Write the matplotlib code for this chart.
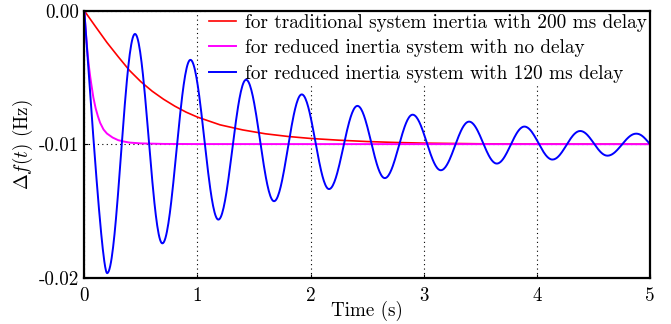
import numpy as np
import matplotlib
matplotlib.use("Agg")
import matplotlib.pyplot as plt
from matplotlib.path import Path

plt.rcParams["font.family"] = "cmr10"
plt.rcParams["mathtext.fontset"] = "cm"
plt.rcParams["axes.unicode_minus"] = False
plt.rcParams["axes.formatter.use_mathtext"] = True

# ---------------- data ----------------
labels = [
    "for traditional system inertia with 200 ms delay",
    "for reduced inertia system with no delay",
    "for reduced inertia system with 120 ms delay",
]

red_t = [0.0, 0.1, 0.2, 0.3, 0.4, 0.5, 0.6, 0.7, 0.8, 0.9, 1.0, 1.2, 1.4, 1.6,
         1.8, 2.0, 2.25, 2.5, 2.75, 3.0, 3.5, 4.0, 5.0]
red_v = [0.0, -0.00120, -0.00238, -0.00345, -0.00448, -0.00532, -0.00603,
         -0.00663, -0.00715, -0.00760, -0.00797, -0.00855, -0.00893, -0.00922,
         -0.00942, -0.00957, -0.00970, -0.00980, -0.00987, -0.00992, -0.00997,
         -0.00999, -0.01000]

mag_t = [0.0, 0.01, 0.02, 0.03, 0.04, 0.05, 0.06, 0.08, 0.10, 0.12, 0.14,
         0.17, 0.20, 0.25, 0.30, 0.35, 0.40, 0.50, 0.70, 1.0, 5.0]
mag_v = [0.0, -0.0012, -0.0023, -0.0033, -0.0041, -0.0048, -0.0054, -0.0065,
         -0.0073, -0.0079, -0.0084, -0.0089, -0.0092, -0.0095, -0.0097,
         -0.0098, -0.00988, -0.00994, -0.00998, -0.00999, -0.0100]

# blue: start point, successive troughs / peaks, end point
blue_t = [0.0, 0.202, 0.448, 0.690, 0.938, 1.185, 1.430, 1.677, 1.922, 2.163,
          2.414, 2.656, 2.902, 3.151, 3.401, 3.646, 3.890, 4.138, 4.383,
          4.624, 4.878, 5.0]
blue_v = [0.0, -0.01966, -0.00174, -0.01743, -0.00368, -0.01565, -0.00517,
          -0.01427, -0.00627, -0.01336, -0.00713, -0.01254, -0.00779,
          -0.01195, -0.00831, -0.01145, -0.00868, -0.01115, -0.00901,
          -0.01086, -0.00921, -0.01000]
# slope of the curve at those points (zero at the extrema)
blue_slope = [-0.120] + [0.0] * 20 + [-0.0102]

x_ticks = [0, 1, 2, 3, 4, 5]
x_ticklabels = ["0", "1", "2", "3", "4", "5"]
y_ticks = [0.0, -0.01, -0.02]
y_ticklabels = ["0.00", "-0.01", "-0.02"]

# ---------------- smooth curve through the blue key points ----------------
def smooth_curve(ts, vs, slopes, k_out, k_in, n=40):
    verts = [(ts[0], vs[0])]
    codes = [Path.MOVETO]
    for i in range(len(ts) - 1):
        dt = ts[i + 1] - ts[i]
        a = k_out[i] * dt
        b = k_in[i] * dt
        verts += [(ts[i] + a, vs[i] + slopes[i] * a),
                  (ts[i + 1] - b, vs[i + 1] - slopes[i + 1] * b),
                  (ts[i + 1], vs[i + 1])]
        codes += [Path.CURVE4] * 3
    path = Path(verts, codes)
    pts = []
    s = np.linspace(0, 1, n)
    for seg, code in path.iter_bezier():
        if code == Path.MOVETO:
            continue
        pts.append(seg(s))
    pts = np.vstack(pts)
    return pts[:, 0], pts[:, 1]

nseg = len(blue_t) - 1
k_out = [0.40] + [0.364] * (nseg - 1)
k_in = [0.20] + [0.364] * (nseg - 1)
bx, by = smooth_curve(blue_t, blue_v, blue_slope, k_out, k_in)

# ---------------- figure ----------------
W, H = 671, 324
fig = plt.figure(figsize=(W / 100, H / 100), dpi=100)
L, R, T, B = 84.3, 650.0, 10.7, 277.7
ax = fig.add_axes([L / W, 1 - B / H, (R - L) / W, (B - T) / H])

fs = 13.7
ax.plot(red_t, red_v, color="#ff0000", lw=1.2, label=labels[0], zorder=3)
ax.plot(mag_t, mag_v, color="#ff00ff", lw=1.4, label=labels[1], zorder=3)
ax.plot(bx, by, color="#0000ff", lw=1.4, label=labels[2], zorder=3)

ax.set_xlim(0, 5)
ax.set_ylim(-0.02, 0.0)
ax.set_xticks(x_ticks)
ax.set_xticklabels(x_ticklabels, fontsize=fs)
ax.set_yticks(y_ticks)
ax.set_yticklabels(y_ticklabels, fontsize=fs)
ax.tick_params(direction="in", length=3, width=0.8, top=False, right=False)
ax.tick_params(axis="x", pad=7)
ax.tick_params(axis="y", pad=4)

ax.grid(True, linestyle=(0, (1, 3)), color="black", lw=0.8, zorder=0.5)
ax.set_axisbelow(True)
for sp in ax.spines.values():
    sp.set_linewidth(1.6)
    sp.set_zorder(4)

ax.set_xlabel("Time (s)", fontsize=fs)
ax.xaxis.set_label_coords(0.5, -0.085)
ax.set_ylabel(r"$\Delta f(t)$ (Hz)", fontsize=fs)
ax.yaxis.set_label_coords(-0.088, 0.5)

leg = ax.legend(loc="upper right", fontsize=13.85, frameon=True, fancybox=False,
                framealpha=1, edgecolor="none", facecolor="white",
                handlelength=1.40, handletextpad=0.47, labelspacing=0.39,
                borderpad=0.1, borderaxespad=0.05)
leg.set_zorder(2.5)

fig.savefig("out.png", dpi=100)
